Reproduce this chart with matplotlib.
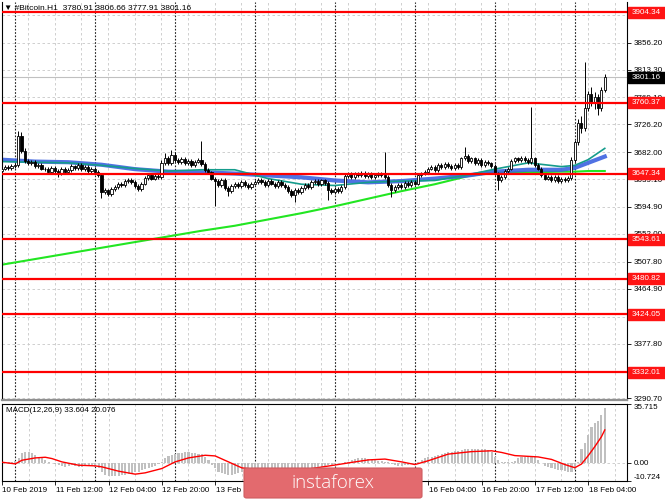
import numpy as np
import matplotlib
matplotlib.use("Agg")
import matplotlib.pyplot as plt
from matplotlib.patches import Rectangle, FancyBboxPatch
from matplotlib.transforms import blended_transform_factory

plt.rcParams['font.family'] = ['Liberation Sans', 'DejaVu Sans']

# hourly bars, index 0 = 10 Feb 2019 20:00
O = [3652, 3656, 3659, 3657, 3660, 3661, 3708, 3684, 3668, 3664, 3667, 3660, 3662, 3656, 3655, 3650,
     3657, 3652, 3648, 3655, 3651, 3654, 3660, 3657, 3662, 3655, 3659, 3652, 3656, 3650, 3646, 3618,
     3622, 3615, 3624, 3627, 3632, 3629, 3636, 3638, 3634, 3628, 3624, 3632, 3641, 3645, 3640, 3644,
     3642, 3665, 3672, 3664, 3678, 3670, 3666, 3671, 3664, 3668, 3661, 3667, 3670, 3663, 3654, 3650,
     3640, 3636, 3630, 3638, 3625, 3620, 3628, 3632, 3628, 3634, 3630, 3626, 3632, 3635, 3638, 3634,
     3630, 3636, 3632, 3628, 3635, 3630, 3626, 3620, 3614, 3622, 3618, 3625, 3630, 3627, 3634, 3636,
     3631, 3637, 3633, 3622, 3618, 3624, 3620, 3626, 3644, 3647, 3643, 3648, 3645, 3649, 3644, 3647,
     3642, 3646, 3648, 3645, 3643, 3630, 3622, 3627, 3630, 3626, 3633, 3629, 3634, 3632, 3645, 3648,
     3650, 3656, 3659, 3654, 3661, 3658, 3663, 3660, 3657, 3662, 3659, 3672, 3676, 3668, 3672, 3665,
     3670, 3662, 3667, 3664, 3660, 3648, 3638, 3642, 3652, 3656, 3668, 3672, 3669, 3673, 3670, 3666,
     3672, 3662, 3656, 3645, 3640, 3643, 3638, 3642, 3636, 3640, 3637, 3641, 3670, 3698, 3728, 3720,
     3752, 3774, 3762, 3770, 3752, 3780.91]
H = [3659, 3662, 3662, 3663, 3664, 3716, 3714, 3688, 3671, 3670, 3669, 3665, 3665, 3659, 3658, 3660,
     3660, 3656, 3658, 3658, 3657, 3663, 3662, 3665, 3665, 3662, 3661, 3659, 3659, 3653, 3649, 3625,
     3624, 3627, 3630, 3635, 3634, 3639, 3641, 3641, 3637, 3631, 3635, 3644, 3648, 3648, 3647, 3647,
     3669, 3680, 3676, 3686, 3682, 3673, 3675, 3674, 3671, 3671, 3670, 3673, 3700, 3666, 3657, 3652,
     3643, 3639, 3641, 3641, 3628, 3631, 3635, 3635, 3637, 3637, 3633, 3635, 3638, 3641, 3641, 3637,
     3639, 3639, 3635, 3638, 3638, 3633, 3629, 3623, 3625, 3625, 3628, 3633, 3633, 3637, 3640, 3639,
     3640, 3640, 3636, 3625, 3627, 3627, 3629, 3647, 3650, 3650, 3651, 3651, 3652, 3652, 3650, 3650,
     3649, 3651, 3651, 3683, 3646, 3633, 3630, 3633, 3633, 3636, 3636, 3637, 3637, 3648, 3651, 3653,
     3659, 3662, 3662, 3664, 3664, 3666, 3666, 3663, 3665, 3665, 3675, 3690, 3679, 3675, 3675, 3673,
     3673, 3670, 3670, 3667, 3663, 3651, 3645, 3655, 3659, 3671, 3675, 3675, 3676, 3676, 3673, 3754,
     3675, 3665, 3659, 3648, 3646, 3646, 3645, 3645, 3643, 3643, 3644, 3674, 3702, 3735, 3740, 3826,
     3780, 3785, 3778, 3774, 3785, 3806.66]
L = [3649, 3653, 3654, 3654, 3657, 3658, 3680, 3665, 3661, 3661, 3657, 3657, 3653, 3652, 3647, 3647,
     3649, 3643, 3645, 3648, 3648, 3651, 3654, 3654, 3652, 3652, 3649, 3649, 3647, 3643, 3609, 3615,
     3612, 3612, 3621, 3624, 3626, 3626, 3633, 3631, 3625, 3621, 3621, 3629, 3638, 3637, 3637, 3639,
     3639, 3662, 3661, 3661, 3667, 3663, 3663, 3661, 3661, 3658, 3658, 3664, 3660, 3651, 3647, 3637,
     3596, 3627, 3627, 3622, 3612, 3617, 3625, 3625, 3625, 3627, 3623, 3623, 3629, 3632, 3631, 3627,
     3627, 3629, 3625, 3625, 3627, 3623, 3617, 3611, 3603, 3615, 3615, 3622, 3624, 3624, 3631, 3628,
     3628, 3630, 3606, 3615, 3615, 3617, 3617, 3623, 3641, 3640, 3640, 3642, 3642, 3641, 3641, 3639,
     3639, 3643, 3642, 3640, 3627, 3611, 3619, 3624, 3623, 3623, 3626, 3626, 3629, 3629, 3642, 3645,
     3647, 3653, 3651, 3651, 3655, 3655, 3657, 3654, 3654, 3656, 3656, 3669, 3665, 3665, 3662, 3662,
     3659, 3659, 3661, 3657, 3645, 3622, 3635, 3639, 3649, 3653, 3665, 3666, 3666, 3667, 3663, 3663,
     3659, 3653, 3642, 3637, 3637, 3635, 3635, 3633, 3633, 3634, 3634, 3638, 3666, 3694, 3712, 3716,
     3748, 3756, 3750, 3741, 3748, 3777.91]
C = [3656, 3659, 3657, 3660, 3661, 3708, 3684, 3668, 3664, 3667, 3660, 3662, 3656, 3655, 3650, 3657,
     3652, 3648, 3655, 3651, 3654, 3660, 3657, 3662, 3655, 3659, 3652, 3656, 3650, 3646, 3618, 3622,
     3615, 3624, 3627, 3632, 3629, 3636, 3638, 3634, 3628, 3624, 3632, 3641, 3645, 3640, 3644, 3642,
     3665, 3672, 3664, 3678, 3670, 3666, 3671, 3664, 3668, 3661, 3667, 3670, 3663, 3654, 3650, 3640,
     3636, 3630, 3638, 3625, 3620, 3628, 3632, 3628, 3634, 3630, 3626, 3632, 3635, 3638, 3634, 3630,
     3636, 3632, 3628, 3635, 3630, 3626, 3620, 3614, 3622, 3618, 3625, 3630, 3627, 3634, 3636, 3631,
     3637, 3633, 3622, 3618, 3624, 3620, 3626, 3644, 3647, 3643, 3648, 3645, 3649, 3644, 3647, 3642,
     3646, 3648, 3645, 3643, 3630, 3622, 3627, 3630, 3626, 3633, 3629, 3634, 3632, 3645, 3648, 3650,
     3656, 3659, 3654, 3661, 3658, 3663, 3660, 3657, 3662, 3659, 3672, 3676, 3668, 3672, 3665, 3670,
     3662, 3667, 3664, 3660, 3648, 3638, 3642, 3652, 3656, 3668, 3672, 3669, 3673, 3670, 3666, 3672,
     3662, 3656, 3645, 3640, 3643, 3638, 3642, 3636, 3640, 3637, 3641, 3670, 3698, 3728, 3720, 3752,
     3774, 3762, 3770, 3752, 3780.91, 3801.16]

# moving averages, read at sample bars
MA_I = [0, 10, 20, 30, 40, 50, 60, 70, 80, 90, 100, 110, 120, 130, 140, 148, 158, 168, 172, 176, 181]
MA_BLUE = [3670, 3667, 3666, 3662, 3655, 3651, 3650, 3648, 3645, 3642, 3637, 3634, 3636, 3640, 3645,
           3651, 3654, 3654, 3657, 3665, 3675]
MA_TEAL = [3667, 3666, 3665, 3661, 3656, 3652, 3654, 3654, 3640, 3631, 3629, 3634, 3636, 3637, 3646,
           3655, 3665, 3659, 3661, 3670, 3688]
MA_GREEN = [3503, 3512, 3521, 3530, 3539, 3548, 3557, 3565, 3575, 3585, 3596, 3608, 3620, 3631, 3644,
            3650, 3650, 3651, 3651, 3652, 3652]

LEVELS = [3904.34, 3760.37, 3647.34, 3543.61, 3480.82, 3424.05, 3332.01]
# scale labels left visible (the others sit fully under the level boxes)
PRICE_TICKS = [3856.20, 3813.30, 3769.10, 3726.20, 3682.00, 3639.10, 3594.90, 3552.00,
               3507.80, 3464.90, 3377.80, 3290.70]
GRID_LEVELS = [3900.40, 3856.20, 3813.30, 3769.10, 3726.20, 3682.00, 3639.10, 3594.90, 3552.00,
               3507.80, 3464.90, 3420.70, 3377.80, 3333.60, 3290.70]
BID = 3801.16

MACD_HIST = [1, 1, 0.5, 1, 1.5, 3, 6, 7, 6.5, 6, 5, 4, 3, 2, 1, 0, -0.5, -1, -1.5, -2, -1.5, -1, -1.5,
             -2, -2, -1.5, -1, -1, -2, -3, -5, -7, -8, -8, -7.5, -7.5, -7, -7, -6.5, -6, -5.5, -5, -4,
             -3.5, -3, -2, -1.5, -0.5, 1, 3, 4.5, 5, 5.5, 6, 6, 6.5, 6.5, 6, 6, 5.5, 5.5, 4, 2, -1, -3,
             -5, -6, -6.5, -7, -7, -6.5, -6, -5.5, -5, -5, -4.5, -4.5, -4, -4, -4, -3.5, -3.5, -3.5,
             -4, -4, -4.5, -5, -5, -5, -4.5, -4, -4, -3.5, -3, -3, -2.5, -2, -1.5, -1, -1, -0.5, 0, 0,
             0.5, 1, 2, 2.5, 3, 3, 3, 2.5, 2, 2, 1.5, 1.5, 1, 0.5, -0.5, -1, -1.5, -1.5, -1, -1, -0.5,
             0, 1, 2, 3, 3.5, 4, 4.5, 5, 5.5, 6, 6.5, 7, 7.5, 7.5, 8, 8.5, 8.5, 8.5, 8.5, 8.5, 8.5,
             8.5, 8, 7, 4, 2, 1, 0.5, 0.5, 1, 1.5, 3, 3.5, 4, 4, 4, 3.5, 2, 0, -1.5, -2.5, -3, -3.5,
             -4, -4, -4.5, -5, -5, -4, 1, 8.3, 12, 17, 22, 24.4, 25.7, 29, 33.604]
SIG_I = [0, 4, 6, 10, 13, 15, 18, 23, 28, 30, 35, 40, 43, 48, 52, 56, 61, 64, 68, 72, 78, 85, 92,
         100, 105, 110, 115, 120, 124, 128, 134, 141, 147, 150, 154, 161, 165, 169, 172, 174, 176,
         178, 180, 181]
SIG_V = [0.6, -0.4, 1.8, 3.2, 3.6, 2.8, 0.8, -1.2, -1.6, -2.2, -4.8, -6.6, -5.8, -3.2, 0.8, 3.2, 4.8,
         4.4, 0.8, -2.8, -4.2, -4.6, -3.5, -1.1, 0.5, 2.0, 2.5, 0.8, -0.8, 1.5, 5.5, 7.0, 7.5, 6.5,
         4.6, 3.8, 2.3, -0.8, -2.7, -0.5, 4.5, 10.0, 16.0, 20.076]
MACD_TOP, MACD_BOT = 35.715, -10.724

# time scale (labels fully covered by the logo box are left out)
DATE_TICKS = [0, 16, 32, 48, 64, 80, 96, 112, 128, 144, 160, 176]
DATE_I = [0, 16, 32, 48, 64, 128, 144, 160, 176]
DATE_LBL = ["10 Feb 2019", "11 Feb 12:00", "12 Feb 04:00", "12 Feb 20:00", "13 Feb 12:00",
            "16 Feb 04:00", "16 Feb 20:00", "17 Feb 12:00", "18 Feb 04:00"]

W, Hh = 665, 499
PX_BAR, X0 = 3.333, 1.5          # pixel pitch of one bar, pixel x of bar 0
LEFT, RIGHT = 2, 627


def fx(x):
    return x / W


def fy(y):
    return 1 - y / Hh


fig = plt.figure(figsize=(W / 100, Hh / 100), dpi=100)
ax = fig.add_axes([fx(LEFT), fy(400), fx(RIGHT - LEFT), (400 - 2) / Hh])
ax2 = fig.add_axes([fx(LEFT), fy(481), fx(RIGHT - LEFT), (481 - 404) / Hh])

xl = ((LEFT - X0) / PX_BAR, (RIGHT - X0) / PX_BAR)
n = len(C)
idx = np.arange(n)
o, h, l, c = map(np.array, (O, H, L, C))

for a in (ax, ax2):
    a.set_xlim(*xl)
    a.set_facecolor("white")
    for i in range(0, n + 8, 8):
        a.axvline(i, color="#c8c8c8", lw=0.6, ls=(0, (3, 3)), zorder=0)
    for i in range(4, n + 8, 24):
        a.axvline(i, color="#202020", lw=0.8, ls=(0, (1.5, 1.5)), zorder=0.5)
    a.set_xticks([])
    for s in a.spines.values():
        s.set_color("black")
        s.set_linewidth(0.8)

# ---- price panel
ax.set_ylim(3288.0, 3920.7)
ax.spines["top"].set_visible(False)
ax.spines["bottom"].set_color("#909090")
ax.spines["bottom"].set_linewidth(1.6)
for p in GRID_LEVELS:
    ax.axhline(p, color="#c8c8c8", lw=0.6, ls=(0, (3, 3)), zorder=0)
ax.axhline(BID, color="#c0c0c0", lw=0.8, zorder=0.8)

ax.plot(MA_I, MA_GREEN, color="#22e622", lw=1.5, zorder=2)
ax.plot(MA_I, MA_BLUE, color="#3d63e0", lw=3.0, alpha=0.9, zorder=2.2)
ax.plot(MA_I, MA_TEAL, color="#159c8c", lw=1.2, zorder=2.4)

up = c >= o
body_lo = np.minimum(o, c)
body_h = np.maximum(np.abs(c - o), 0.8)
ax.vlines(idx, l, h, color="black", lw=0.7, zorder=3)
ax.bar(idx[up], body_h[up], bottom=body_lo[up], width=0.62, color="white",
       edgecolor="black", linewidth=0.6, zorder=3.2)
ax.bar(idx[~up], body_h[~up], bottom=body_lo[~up], width=0.62, color="black",
       edgecolor="black", linewidth=0.6, zorder=3.2)

for lv in LEVELS:
    ax.axhline(lv, color="#ff0000", lw=1.6, zorder=5)

ax.yaxis.tick_right()
ax.set_yticks(PRICE_TICKS)
ax.set_yticklabels([f"{p:.2f}" for p in PRICE_TICKS])
ax.tick_params(axis="y", length=3, width=0.6, pad=2, labelsize=5.8, colors="black")

tr = blended_transform_factory(fig.transFigure, ax.transData)
ppx = (3920.7 - 3288.0) / 398.0
for lv in LEVELS:
    ax.add_patch(Rectangle((fx(RIGHT + 1), lv - 5.5 * ppx), fx(W - RIGHT - 1), 11 * ppx,
                           transform=tr, facecolor="#ff1414", edgecolor="#ff1414",
                           clip_on=False, zorder=10))
    ax.text(fx(RIGHT + 5), lv, f"{lv:.2f}", transform=tr, color="white", fontsize=5.8,
            va="center", ha="left", clip_on=False, zorder=11)
ax.add_patch(Rectangle((fx(RIGHT + 1), BID - 5.5 * ppx), fx(W - RIGHT - 1), 11 * ppx,
                       transform=tr, facecolor="black", edgecolor="black",
                       clip_on=False, zorder=10))
ax.text(fx(RIGHT + 5), BID, f"{BID:.2f}", transform=tr, color="white", fontsize=5.8,
        va="center", ha="left", clip_on=False, zorder=11)

fig.text(fx(4), fy(8), "\u25bc #Bitcoin.H1  3780.91 3806.66 3777.91 3801.16",
         fontsize=6.0, va="center", ha="left", color="black", zorder=12)

# ---- MACD panel
ax2.set_ylim(MACD_BOT, MACD_TOP)
ax2.axhline(0, color="#c8c8c8", lw=0.6, ls=(0, (3, 3)), zorder=0)
ax2.bar(idx, MACD_HIST, width=0.62, color="#c0c0c0", edgecolor="none", zorder=2)
ax2.plot(SIG_I, SIG_V, color="#ff0000", lw=1.0, zorder=3)
ax2.yaxis.tick_right()
ax2.set_yticks([MACD_TOP, 0, MACD_BOT])
ax2.set_yticklabels(["35.715", "0.00", "-10.724"])
for lab, va in zip(ax2.get_yticklabels(), ["top", "center", "bottom"]):
    lab.set_verticalalignment(va)
ax2.tick_params(axis="y", length=3, width=0.6, pad=2, labelsize=5.8, colors="black")
ax2.set_xticks(DATE_TICKS)
ax2.set_xticklabels([])
ax2.tick_params(axis="x", length=3, width=0.6, direction="out")
fig.text(fx(6), fy(411), "MACD(12,26,9) 33.604 20.076", fontsize=5.8, va="center",
         ha="left", color="black")

for i, lab in zip(DATE_I, DATE_LBL):
    fig.text(fx(X0 + PX_BAR * i + 1), fy(490), lab, fontsize=5.8, va="center", ha="left",
             color="black")

# watermark box
fig.patches.append(FancyBboxPatch((fx(244), fy(498)), fx(178), (498 - 468) / Hh,
                                  boxstyle="round,pad=0,rounding_size=0.004",
                                  transform=fig.transFigure, facecolor="#e36a6e",
                                  edgecolor="#cf5c60", linewidth=0.8, zorder=20))
fig.text(fx(333), fy(483), "instaforex", fontsize=13.5, color="white", va="center",
         ha="center", family=["Open Sans", "DejaVu Sans"], fontweight="light", zorder=21)

fig.savefig("out.png", dpi=100, facecolor="white")
